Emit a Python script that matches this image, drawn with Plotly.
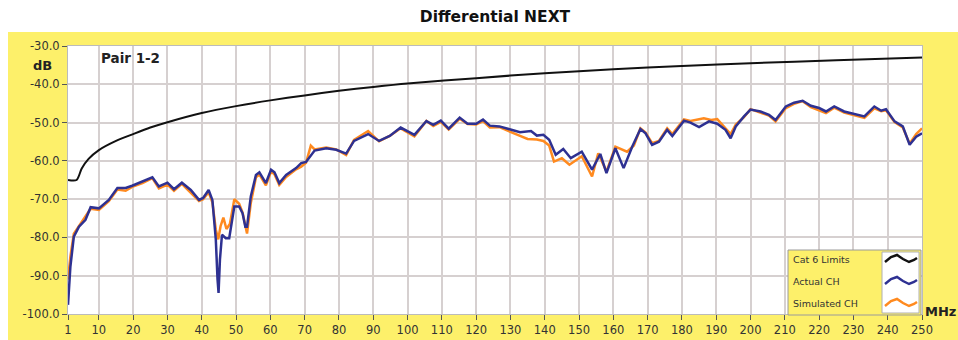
import plotly.graph_objects as go

# ---------------- data ----------------
limit_f = [1, 3.5, 5, 7, 10, 15, 20, 25, 30, 40, 50, 60, 70, 80, 90, 100,
           120, 140, 160, 180, 200, 225, 250]
limit_db = [-65.0, -65.0, -62.0, -59.5, -57.2, -54.8, -53.0, -51.3, -49.9, -47.5,
            -45.7, -44.2, -42.9, -41.7, -40.7, -39.8, -38.4, -37.1, -36.1, -35.2,
            -34.5, -33.7, -33.0]

actual_f = [1, 1.7, 2.7, 4.2, 6.1, 7.6, 10, 12.9, 15.4, 17.8, 19.7, 22.7, 25.6, 27.5,
            30, 31.9, 34.2, 36.8, 39.2, 40.4, 42, 43.1, 44.1, 44.6, 44.9, 45.3, 45.9,
            47, 48, 49.5, 50.9, 51.9, 52.7, 53.2, 54.3, 55.8, 56.8, 58.7, 60.2, 61.2,
            62.6, 64.6, 67.5, 69, 70.4, 72.9, 76.3, 79.2, 82.1, 84.4, 88.5, 91.7, 94.8,
            98, 102, 105.5, 107.5, 109.7, 112, 115.2, 117.5, 120, 122, 124, 126.8, 130,
            132.8, 136, 137.7, 139.6, 141.3, 143.2, 145.4, 147.6, 150.8, 153.8, 156.2,
            158, 160.6, 163, 165.5, 167.9, 169.4, 171.3, 173.3, 175.7, 177.2, 180.6,
            182.5, 185, 187.9, 190.3, 192.7, 194.2, 195.7, 198.1, 200, 202.9, 205.4,
            207.3, 210.3, 212.7, 215.2, 217.6, 220, 222, 224.4, 227.3, 230.3, 233.2,
            236.1, 238.1, 239.5, 242, 244.4, 246.4, 248.3, 250]
actual_db = [-97.6, -87.6, -79.8, -77.2, -75.4, -72.1, -72.4, -70.2, -67.1, -67.1, -66.5,
             -65.4, -64.3, -66.7, -65.7, -67.4, -65.7, -67.6, -70.2, -69.7, -67.6, -70.2,
             -80.6, -91.0, -94.5, -85.8, -79.3, -80.2, -80.2, -71.9, -71.9, -73.7, -77.2,
             -77.2, -69.3, -63.7, -63.0, -65.8, -62.3, -63.0, -65.8, -63.7, -61.9, -60.6,
             -60.3, -57.3, -56.7, -57.1, -58.1, -54.8, -53.0, -54.8, -53.5, -51.3, -53.2,
             -49.6, -50.6, -49.5, -51.6, -48.7, -50.3, -50.3, -49.2, -50.8, -51.0, -51.8,
             -52.5, -52.2, -53.4, -53.2, -54.5, -58.4, -56.9, -59.3, -57.6, -62.3, -58.2,
             -63.2, -56.7, -61.9, -56.3, -51.7, -52.8, -55.8, -55.0, -51.9, -53.5, -49.5,
             -50.0, -51.2, -49.7, -50.3, -51.9, -54.1, -51.0, -48.4, -46.6, -47.1, -48.0,
             -49.3, -45.8, -44.8, -44.3, -45.6, -46.2, -47.1, -45.8, -47.1, -47.7, -48.4,
             -45.8, -46.9, -46.5, -49.7, -51.0, -55.8, -53.7, -52.8]

sim_f = [1, 1.7, 2.7, 4.2, 6.1, 7.6, 10, 12.9, 15.4, 17.8, 19.7, 22.7, 25.6, 27.5, 30,
         31.9, 34.2, 36.8, 39.2, 40.4, 42, 43.1, 44.1, 44.8, 45.5, 46.3, 47.2, 48.2,
         49.5, 50.9, 51.9, 53.2, 54.3, 55.8, 56.8, 58.7, 60.2, 61.2, 62.6, 64.6, 67.5,
         69, 70.4, 71.8, 72.9, 76.3, 79.2, 82.1, 84.4, 88.5, 91.7, 94.8, 98, 102,
         105.5, 107.5, 109.7, 112, 115.2, 117.5, 120, 122, 124, 126.8, 130, 132.8, 135,
         137.7, 139.6, 141.3, 142.7, 145, 147.2, 150.8, 153.8, 155.6, 158, 160.6, 164,
         166, 167.9, 169.4, 171.3, 173.3, 175.7, 177.2, 180.6, 182.5, 186.4, 188.5,
         190.3, 192.7, 194.2, 195.7, 198.1, 200, 202.9, 205.4, 207.3, 210.3, 212.7,
         215.2, 217.6, 220, 222, 224.4, 227.3, 230.3, 233.2, 236.1, 238.1, 239.5, 242,
         244.4, 246.4, 248.3, 250]
sim_db = [-91.0, -85.0, -79.0, -77.0, -74.5, -72.5, -72.8, -70.5, -67.5, -67.8, -66.8,
          -65.8, -64.5, -67.2, -66.2, -67.8, -66.0, -68.2, -70.5, -70.0, -68.2, -70.8,
          -78.0, -80.5, -77.0, -74.8, -77.8, -76.5, -70.0, -71.2, -73.5, -79.0, -71.0,
          -64.3, -63.5, -66.4, -62.8, -63.5, -66.3, -64.2, -62.2, -61.5, -60.5, -56.0,
          -57.0, -56.5, -57.0, -58.5, -54.5, -52.2, -54.9, -53.5, -51.5, -53.6, -49.6,
          -50.9, -49.8, -51.8, -49.0, -50.4, -50.5, -49.6, -51.3, -51.2, -52.5, -53.5,
          -54.3, -54.4, -54.8, -56.0, -60.2, -59.3, -61.0, -58.8, -64.1, -58.0, -62.8,
          -56.3, -57.6, -56.0, -51.5, -52.6, -55.4, -54.8, -51.5, -53.0, -49.2, -49.6,
          -48.9, -49.3, -49.1, -51.5, -53.0, -50.5, -48.6, -46.5, -47.4, -48.2, -49.7,
          -46.2, -45.1, -44.4, -46.0, -46.8, -47.5, -46.1, -47.4, -48.1, -48.8, -46.3,
          -47.0, -46.8, -49.9, -51.3, -55.5, -53.0, -51.5]

x_ticks = [1] + list(range(10, 251, 10))
y_ticks = list(range(-100, -29, 10))
y_ticktext = [f"{v:.1f}" for v in y_ticks]

series_names = ["Cat 6 Limits", "Actual CH", "Simulated CH"]
series_colors = ["#111111", "#2e3192", "#ff8a1f"]

# ---------------- layout helpers ----------------
W, H = 958, 340
L, R, T, B = 68, 36, 46, 26
YELLOW = "#fdf06a"
FONT = "DejaVu Sans, Verdana, sans-serif"


def fx(px):
    return (px - L) / (W - L - R)


def fy(py):
    return (H - B - py) / (H - T - B)


fig = go.Figure()
fig.add_trace(go.Scatter(x=limit_f, y=limit_db, mode="lines", name=series_names[0],
                         line=dict(color=series_colors[0], width=2, shape="spline",
                                   smoothing=0.8)))
fig.add_trace(go.Scatter(x=sim_f, y=sim_db, mode="lines", name=series_names[2],
                         line=dict(color=series_colors[2], width=2.5)))
fig.add_trace(go.Scatter(x=actual_f, y=actual_db, mode="lines", name=series_names[1],
                         line=dict(color=series_colors[1], width=2.5)))

shapes = [
    # white strip for title area and left margin
    dict(type="rect", xref="paper", yref="paper", x0=fx(0), x1=fx(W), y0=fy(32), y1=fy(0),
         fillcolor="white", line=dict(width=0), layer="below"),
    dict(type="rect", xref="paper", yref="paper", x0=fx(0), x1=fx(8), y0=fy(H), y1=fy(0),
         fillcolor="white", line=dict(width=0), layer="below"),
    # legend box
    dict(type="rect", xref="paper", yref="paper", x0=fx(788), x1=fx(921), y0=fy(315), y1=fy(250),
         fillcolor=YELLOW, line=dict(color="#9a9a9a", width=1), layer="above"),
    dict(type="rect", xref="paper", yref="paper", x0=fx(882), x1=fx(919), y0=fy(313), y1=fy(252),
         fillcolor="white", line=dict(color="#b0b0b0", width=1), layer="above"),
]
annotations = []
rows_y = [259, 281, 303]
for name, col, yy in zip(series_names, series_colors, rows_y):
    pts = [(885, yy + 3), (891, yy - 2), (897, yy - 4), (903, yy), (909, yy + 3),
           (914, yy + 1), (917, yy - 1)]
    path = "M " + " L ".join(f"{fx(a):.5f},{fy(b):.5f}" for a, b in pts)
    shapes.append(dict(type="path", xref="paper", yref="paper", path=path,
                       line=dict(color=col, width=2.5), layer="above"))
    annotations.append(dict(text=name, xref="paper", yref="paper", x=fx(791), y=fy(yy),
                            xanchor="left", yanchor="middle", showarrow=False,
                            font=dict(family=FONT, size=9.5, color="#333333")))

annotations += [
    dict(text="<b>Pair 1-2</b>", xref="paper", yref="paper", x=fx(99), y=fy(58),
         xanchor="left", yanchor="middle", showarrow=False,
         font=dict(family=FONT, size=13.5, color="#222222")),
    dict(text="<b>dB</b>", xref="paper", yref="paper", x=fx(54), y=fy(65),
         xanchor="right", yanchor="middle", showarrow=False,
         font=dict(family=FONT, size=13, color="#222222")),
    dict(text="<b>MHz</b>", xref="paper", yref="paper", x=fx(923), y=fy(311),
         xanchor="left", yanchor="middle", showarrow=False,
         font=dict(family=FONT, size=13, color="#222222")),
]

fig.update_layout(
    width=W, height=H,
    margin=dict(l=L, r=R, t=T, b=B, pad=0, autoexpand=False),
    paper_bgcolor=YELLOW, plot_bgcolor="white",
    showlegend=False,
    title=dict(text="<b>Differential NEXT</b>", x=0.5, xref="paper", xanchor="center",
               y=1 - 17 / H, yref="container", yanchor="middle",
               font=dict(family=FONT, size=15.5, color="#111111")),
    font=dict(family=FONT, size=11.5, color="#333333"),
    shapes=shapes, annotations=annotations,
)
fig.update_xaxes(range=[1, 250], tickvals=x_ticks, ticktext=[str(v) for v in x_ticks],
                 showgrid=True, gridcolor="#d6d0d0", gridwidth=1.5, zeroline=False,
                 ticks="outside", ticklen=5, tickcolor="#555555", automargin=False,
                 showline=True, linecolor="#bbbbbb", linewidth=1, mirror=True,
                 tickfont=dict(family=FONT, size=11.5, color="#333333"))
fig.update_yaxes(range=[-100, -30], tickvals=y_ticks, ticktext=y_ticktext,
                 showgrid=True, gridcolor="#d6d0d0", gridwidth=1.5, zeroline=False,
                 ticks="outside", ticklen=5, tickcolor="#555555", automargin=False,
                 showline=True, linecolor="#bbbbbb", linewidth=1, mirror=True,
                 tickfont=dict(family=FONT, size=11.5, color="#333333"))

fig.write_html("out.html", config={"displayModeBar": False},
               post_script="document.body.style.margin='0';document.body.style.padding='0';")
